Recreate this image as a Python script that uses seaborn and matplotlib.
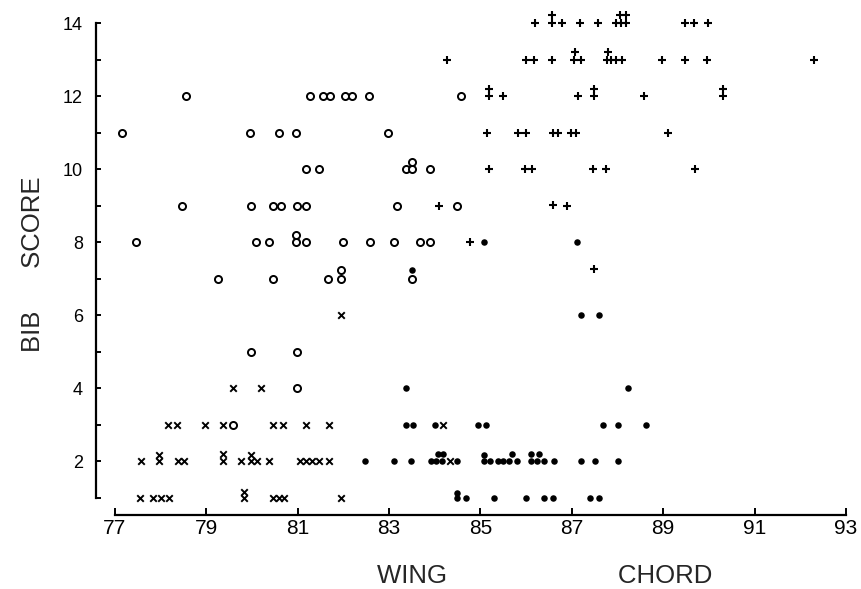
import matplotlib
matplotlib.use("Agg")
import matplotlib.pyplot as plt
import seaborn as sns
import pandas as pd
import numpy as np

# Open circles
circle_wing = [78.55, 81.27, 81.56, 81.71, 82.04, 82.18, 82.57, 84.58,
               77.16, 79.95, 80.58, 80.97, 82.98,
               81.18, 81.47, 83.37, 83.51, 83.90, 83.50,
               78.46, 79.97, 80.45, 80.64, 80.98, 81.19, 83.18, 84.49,
               77.47, 80.08, 80.37, 80.97, 81.18, 81.99, 82.58, 83.10, 83.68, 83.89, 80.97,
               79.26, 80.45, 81.66, 81.95, 83.50, 81.95,
               79.97, 80.98,
               80.98,
               79.59]
circle_bib = [12, 12, 12, 12, 12, 12, 12, 12,
              11, 11, 11, 11, 11,
              10, 10, 10, 10, 10, 10.2,
              9, 9, 9, 9, 9, 9, 9, 9,
              8, 8, 8, 8, 8, 8, 8, 8, 8, 8, 8.2,
              7, 7, 7, 7, 7, 7.25,
              5, 5,
              4,
              3]

# Crosses (x)
cross_wing = [81.94,
              79.58, 80.20,
              78.17, 78.35, 78.96, 79.36, 80.45, 80.67, 81.18, 81.68, 84.17,
              77.58, 77.97, 78.37, 78.50, 79.36, 79.76, 79.97, 80.11, 80.37,
              81.04, 81.17, 81.32, 81.47, 81.68, 84.33, 77.97, 79.36, 79.97,
              77.55, 77.84, 78.00, 78.18, 79.83, 80.45, 80.58, 80.69, 81.94, 79.83]
cross_bib = [6,
             4, 4,
             3, 3, 3, 3, 3, 3, 3, 3, 3,
             2, 2, 2, 2, 2, 2, 2, 2, 2,
             2, 2, 2, 2, 2, 2, 2.17, 2.2, 2.18,
             1, 1, 1, 1, 1, 1, 1, 1, 1, 1.17]

# Filled dots
dot_wing = [85.08, 87.11,
            83.50,
            87.19, 87.59,
            83.37, 88.22,
            83.36, 83.52, 84.00, 84.95, 85.12, 87.69, 88.01, 88.62,
            82.48, 83.10, 83.48, 83.92, 84.03, 84.16, 84.49, 85.07, 85.21,
            85.38, 85.50, 85.63, 85.80, 86.11, 86.23, 86.40, 86.60, 87.19,
            87.50, 88.00,
            84.06, 84.18, 85.07, 85.68, 86.11, 86.27,
            84.49, 84.69, 85.30, 85.99, 86.38, 86.58, 87.40, 87.59, 84.49]
dot_bib = [8, 8,
           7.24,
           6, 6,
           4, 4,
           3, 3, 3, 3, 3, 3, 3, 3,
           2, 2, 2, 2, 2, 2, 2, 2, 2,
           2, 2, 2, 2, 2, 2, 2, 2, 2,
           2, 2,
           2.2, 2.2, 2.17, 2.2, 2.2, 2.2,
           1, 1, 1, 1, 1, 1, 1, 1, 1.15]

# Plus signs
plus_wing = [86.19, 86.57, 86.78, 87.17, 87.57, 87.97, 88.08, 88.19, 89.47, 89.68, 89.98,
             86.57, 88.06, 88.19,
             84.27, 85.99, 86.18, 86.57, 87.05, 87.20, 87.76, 87.86, 87.97, 88.09,
             88.98, 89.48, 89.95, 92.30, 87.06, 87.78,
             85.18, 85.49, 87.14, 87.49, 88.57, 90.31, 85.18, 87.49, 90.31,
             85.15, 85.81, 85.99, 86.58, 86.69, 86.97, 87.09, 89.10,
             85.18, 85.97, 86.13, 87.46, 87.74, 89.69,
             84.10, 86.58, 86.90,
             84.76,
             87.49]
plus_bib = [14, 14, 14, 14, 14, 14, 14, 14, 14, 14, 14,
            14.22, 14.22, 14.22,
            13, 13, 13, 13, 13, 13, 13, 13, 13, 13,
            13, 13, 13, 13, 13.2, 13.2,
            12, 12, 12, 12, 12, 12, 12.2, 12.2, 12.2,
            11, 11, 11, 11, 11, 11, 11, 11,
            10, 10, 10, 10, 10, 10,
            9, 9.03, 9,
            8,
            7.26]

x_ticks = [77, 79, 81, 83, 85, 87, 89, 91, 93]
y_ticks = list(range(1, 15))

sns.set_style("ticks")
plt.rcParams["font.family"] = ["Liberation Sans", "DejaVu Sans"]

fig = plt.figure(figsize=(8.62, 5.89), dpi=100)
ax = fig.add_axes([115 / 862, 91 / 589, 731 / 862, 475 / 589])

circles = pd.DataFrame({"wing": circle_wing, "bib": circle_bib})
crosses = pd.DataFrame({"wing": cross_wing, "bib": cross_bib})
dots = pd.DataFrame({"wing": dot_wing, "bib": dot_bib})
pluses = pd.DataFrame({"wing": plus_wing, "bib": plus_bib})

sns.scatterplot(data=circles, x="wing", y="bib", ax=ax, marker="o", s=26,
                facecolor="white", edgecolor="black", linewidth=1.4, clip_on=False)
sns.scatterplot(data=crosses, x="wing", y="bib", ax=ax, marker="x", s=22,
                color="black", linewidth=1.4, clip_on=False)
sns.scatterplot(data=dots, x="wing", y="bib", ax=ax, marker="o", s=22,
                color="black", edgecolor="black", linewidth=0, clip_on=False)
sns.scatterplot(data=pluses, x="wing", y="bib", ax=ax, marker="+", s=38,
                color="black", linewidth=1.5, clip_on=False)

ax.set_xlim(77, 93)
ax.set_ylim(1, 14)
ax.set_xticks(x_ticks)
ax.set_yticks(y_ticks)

# spines pushed away from the data, trimmed to the ticks
sns.despine(ax=ax, offset={"left": 13.7, "bottom": 12.2}, trim=True)
for side in ["left", "bottom"]:
    ax.spines[side].set_linewidth(1.6)
    ax.spines[side].set_color("black")

ax.set_xticklabels([str(t) for t in x_ticks])
ax.set_yticklabels([str(t) if t % 2 == 0 else "" for t in y_ticks])
ax.tick_params(axis="x", direction="in", length=5, width=1.4, pad=3, labelsize=15, colors="black")
ax.tick_params(axis="y", direction="in", length=3.5, width=1.4, pad=9.5, labelsize=13, colors="black")

ax.set_xlabel("WING" + " " * 24 + "CHORD", fontsize=18.5)
ax.set_ylabel("BIB" + " " * 6 + "SCORE", fontsize=18.5)
ax.xaxis.set_label_coords(0.588, -0.139)
ax.yaxis.set_label_coords(-0.096, 0.493)

fig.savefig("out.png", dpi=100)
